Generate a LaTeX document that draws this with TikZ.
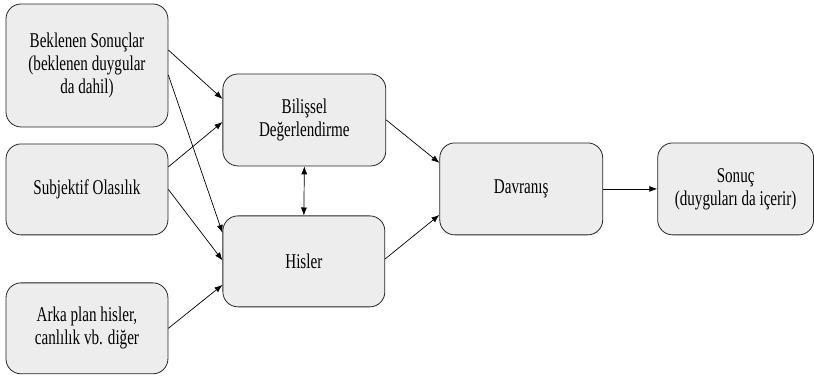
\documentclass[tikz,border=0pt]{standalone}
\usepackage{fontspec}
\setmainfont{Liberation Serif}[FakeStretch=0.72]
\usetikzlibrary{arrows.meta}
\begin{document}
\begin{tikzpicture}[x=1pt, y=-1pt,
    box/.style={draw=black!85, line width=0.8pt, fill=black!7, rounded corners=15pt,
      align=center, inner sep=2pt, font=\fontsize{21}{23}\selectfont},
    arr/.style={-{Latex[length=8pt,width=6pt]}, line width=0.7pt} ]
    % --- Left column ---
    \node[box, minimum width=162pt, minimum height=123pt] (bek) at (87, 65.5) {Beklenen Sonuçlar\\(beklenen duygular\\da dahil)};
    \node[box, minimum width=162pt, minimum height=91pt] (sub) at (87, 189.5) {Subjektif Olasılık};
    \node[box, minimum width=162pt, minimum height=91pt] (ark) at (87, 328.5) {Arka plan hisler,\\canlılık vb. diğer};

    % --- Middle column ---
    \node[box, minimum width=163pt, minimum height=92pt] (bil) at (304.5, 120) {Bilişsel\\Değerlendirme};
    \node[box, minimum width=162pt, minimum height=91pt] (his) at (304, 261.5) {Hisler};

    % --- Right ---
    \node[box, minimum width=163pt, minimum height=92pt] (dav) at (521.5, 189) {Davranış};
    \node[box, minimum width=156pt, minimum height=92pt] (son) at (736, 189) {Sonuç\\(duyguları da içerir)};

    \draw[arr] ([yshift=15.5pt]bek.east) -- ([yshift=21pt]bil.west);
    \draw[arr] ([yshift=-9.5pt]bek.east) -- ([yshift=28.5pt]his.west);
    \draw[arr] ([yshift=22.5pt]sub.east) -- ([yshift=-2pt]bil.west);
    \draw[arr] (sub.east) -- ([yshift=1pt]his.west);
    \draw[arr] (ark.east) -- ([yshift=-23.5pt]his.west);
    \draw[line width=0.7pt, {Latex[length=8pt,width=6pt]}-{Latex[length=8pt,width=6pt]}] (bil.south) -- (his.north);
    \draw[arr] (bil.east) -- ([yshift=26pt]dav.west);
    \draw[arr] ([yshift=2.5pt]his.east) -- ([yshift=-26pt]dav.west);
    \draw[arr] (dav.east) -- (son.west);

    % Bounding box
    \useasboundingbox (0, 0) rectangle (814, 378);
\end{tikzpicture}
\end{document}
